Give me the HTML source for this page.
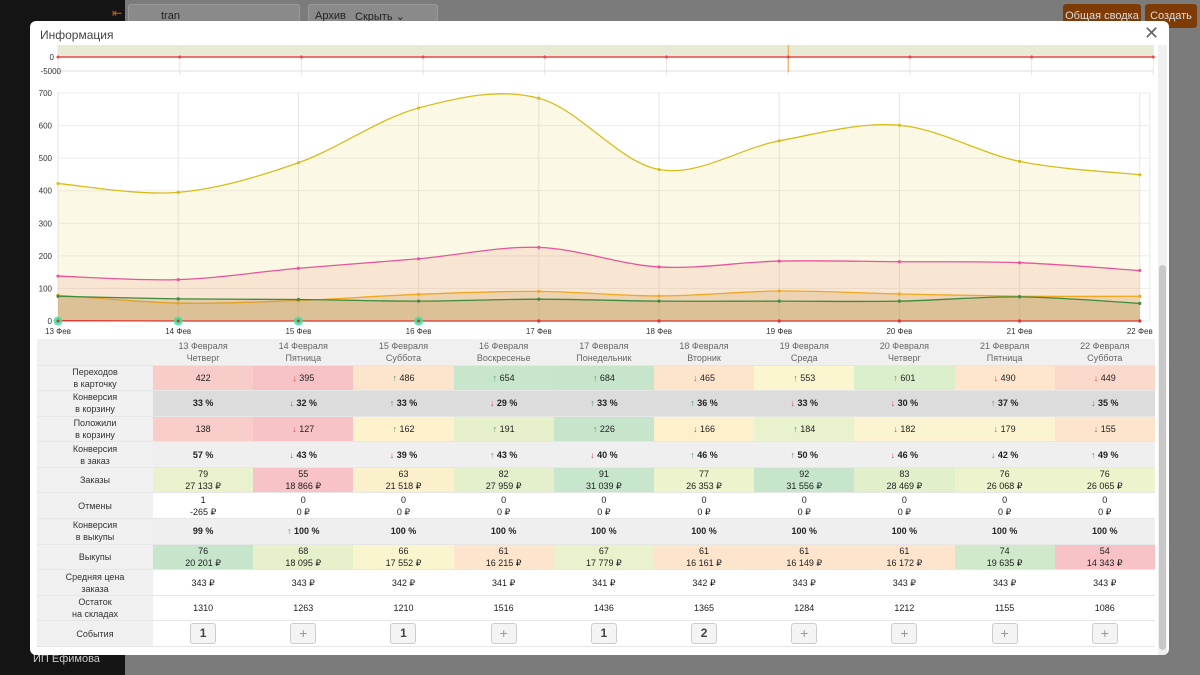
<!DOCTYPE html>
<html><head><meta charset="utf-8">
<style>
*{box-sizing:border-box;margin:0;padding:0}
body{width:1200px;height:675px;overflow:hidden;background:#7b7b7b;font-family:"Liberation Sans",sans-serif;position:relative}
.abs{position:absolute}
#sidebar{left:0;top:0;width:125px;height:675px;background:#141414}
#modal{left:30px;top:21px;width:1139px;height:634px;background:#fff;border-radius:6px;overflow:hidden}
table{position:absolute;left:7px;top:318px;border-collapse:collapse;table-layout:fixed;font-size:9px;color:#222}
td{height:25.6px;text-align:center;vertical-align:middle;border-bottom:1px solid #e6e6e6;line-height:12px;padding:0}
td.lab{width:116px;background:#f0f0f0;color:#333}
td.c{width:100.2px}
tr.hd td{background:#f0f0f0;color:#666;height:26px}
.u{color:#4a9a5a}.d{color:#e0464b}
tr.b td.c{font-weight:bold}
.btn{display:inline-block;width:26px;height:21px;border:1px solid #ccc;border-radius:3px;background:#f4f4f4;line-height:19px;font-size:12px;font-weight:bold;color:#444}
.btn.p{font-weight:normal;color:#999;font-size:14px}
</style></head><body>
<div id="sidebar" class="abs">
<div class="abs" style="left:33px;top:653px;color:#ccc;font-size:11px">ИП Ефимова</div>
<div class="abs" style="left:112px;top:6px;color:#c8601a;font-size:12px">⇤</div>
</div>
<div class="abs" style="left:128px;top:4px;width:172px;height:24px;background:#8a8a8a;border:1px solid #999;border-radius:3px"><span class="abs" style="left:32px;top:5px;font-size:11px;color:#222">tran</span></div>
<div class="abs" style="left:308px;top:4px;width:130px;height:24px;background:#8a8a8a;border:1px solid #999;border-radius:3px;font-size:11px;color:#222"><span class="abs" style="left:6px;top:5px">Архив</span><span class="abs" style="left:46px;top:5px">Скрыть ⌄</span></div>
<div class="abs" style="left:1063px;top:4px;width:78px;height:24px;background:#7f3b05;border-radius:3px;color:#ddd;font-size:11px;line-height:24px;text-align:center">Общая сводка</div>
<div class="abs" style="left:1145px;top:4px;width:52px;height:24px;background:#7f3b05;border-radius:3px;color:#ddd;font-size:11px;line-height:24px;text-align:center">Создать</div>
<div id="modal" class="abs">
<div class="abs" style="left:10px;top:7px;font-size:12px;color:#444">Информация</div>
<div class="abs" style="left:1114px;top:2px;font-size:18px;color:#666">✕</div>
<div class="abs" style="left:1128px;top:24px;width:9px;height:610px;background:#f0f0f0"><div class="abs" style="left:1px;top:220px;width:7px;height:385px;background:#c8c8c8;border-radius:4px"></div></div>
<svg id="chart" class="abs" style="left:0;top:0" width="1130" height="318"></svg>
<table id="tbl"></table>
</div>
<script>
const categories=["13 Фев","14 Фев","15 Фев","16 Фев","17 Фев","18 Фев","19 Фев","20 Фев","21 Фев","22 Фев"];
const transitions=[422,395,486,654,684,465,553,601,490,449];
const cart=[138,127,162,191,226,166,184,182,179,155];
const orders=[79,55,63,82,91,77,92,83,76,76];
const buyouts=[76,68,66,61,67,61,61,61,74,54];
const cancels=[1,0,0,0,0,0,0,0,0,0];
const yTicks=[0,100,200,300,400,500,600,700];
const eventDays=[0,1,2,3];
const NS="http://www.w3.org/2000/svg";
const svg=document.getElementById('chart');
const ox=30,oy=21;
const x=i=>58-ox+i*120.2;
const y=v=>321-oy-v*(228/700);
const x2=i=>58-ox+i*121.7;
function el(t,a,p){const e=document.createElementNS(NS,t);for(const k in a)e.setAttribute(k,a[k]);(p||svg).appendChild(e);return e;}
// mini chart
let r=el('rect',{x:x2(0),y:24,width:x2(9)-x2(0),height:12,fill:'#e7ebd4'});

categories.forEach((c,i)=>{el('line',{x1:x2(i),x2:x2(i),y1:24,y2:54,stroke:'#e6e6e6'});});
el('line',{x1:x2(0),x2:x2(9),y1:50,y2:50,stroke:'#ddd'});
let t=el('text',{x:24,y:39,'font-size':8,fill:'#333','text-anchor':'end'});t.textContent='0';
t=el('text',{x:31,y:53,'font-size':8,fill:'#333','text-anchor':'end'});t.textContent='-5000';
let ml=el('line',{x1:x2(0),x2:x2(9),y1:36,y2:36,stroke:'#e8474c','stroke-width':1.5});

el('line',{x1:x2(6),x2:x2(6),y1:24,y2:51,stroke:'#f0a030','stroke-width':1});
categories.forEach((c,i)=>{el('circle',{cx:x2(i),cy:36,r:1.5,fill:'#e8474c'});});
// main grid
el('rect',{x:x(0),y:y(700),width:x(9)+10-x(0),height:y(0)-y(700),fill:'none',stroke:'#e6e6e6'});
yTicks.forEach(v=>{el('line',{x1:x(0),x2:x(9)+10,y1:y(v),y2:y(v),stroke:'#ececec'});
 const tt=el('text',{x:x(0)-6,y:y(v)+3,'font-size':8,fill:'#333','text-anchor':'end'});tt.textContent=v;
 });
categories.forEach((c,i)=>{el('line',{x1:x(i),x2:x(i),y1:y(700),y2:y(0),stroke:'#e6e6e6'});
 const tt=el('text',{x:x(i),y:y(0)+13,'font-size':8,fill:'#333','text-anchor':'middle'});tt.textContent=c;
 });
function path(vals){let d=`M${x(0)},${y(vals[0])}`;for(let i=0;i<vals.length-1;i++){const p0=vals[Math.max(0,i-1)],p1=vals[i],p2=vals[i+1],p3=vals[Math.min(vals.length-1,i+2)];
 const x0=x(Math.max(0,i-1)),x1=x(i),xx2=x(i+1),x3=x(Math.min(vals.length-1,i+2));
 const c1x=x1+(xx2-x0)/6,c1y=y(p1)+(y(p2)-y(p0))/6,c2x=xx2-(x3-x1)/6,c2y=y(p2)-(y(p3)-y(p1))/6;
 d+=` C${c1x},${c1y} ${c2x},${c2y} ${xx2},${y(p2)}`;}return d;}
function series(vals,stroke,fill,name){
 const a=el('path',{d:path(vals)+` L${x(vals.length-1)},${y(0)} L${x(0)},${y(0)} Z`,fill:fill,stroke:'none'});
 
 const l=el('path',{d:path(vals),fill:'none',stroke:stroke,'stroke-width':1.3});
 
 vals.forEach((v,i)=>{const c=el('circle',{cx:x(i),cy:y(v),r:1.6,fill:stroke});});}
series(transitions,'#d8bd1a','rgba(225,210,60,0.13)','transitions');
series(cart,'#e8559a','rgba(240,130,110,0.17)','cart');
series(orders,'#f0a820','rgba(200,150,60,0.22)','orders');
series(buyouts,'#3e8a3e','rgba(170,140,70,0.25)','buyouts');
series(cancels,'#e03030','none','cancels');
eventDays.forEach(i=>{const c=el('circle',{cx:x(i),cy:y(0),r:4.5,fill:'#3de0a0',opacity:0.85});
 el('circle',{cx:x(i),cy:y(0),r:1.5,fill:'#e03030'});});
// table
const days=[["13 Февраля","Четверг"],["14 Февраля","Пятница"],["15 Февраля","Суббота"],["16 Февраля","Воскресенье"],["17 Февраля","Понедельник"],["18 Февраля","Вторник"],["19 Февраля","Среда"],["20 Февраля","Четверг"],["21 Февраля","Пятница"],["22 Февраля","Суббота"]];
const rows=[
["Переходов<br>в карточку","",["422","d395","u486","u654","u684","d465","u553","u601","d490","d449"],["#f8cdc9","#f7c2c5","#fde4cc","#c7e6cc","#c6e5cb","#fde5cc","#faf6d0","#dcefcc","#fde6cc","#fad9cb"]],
["Конверсия<br>в корзину","b",["33 %","d32 %","u33 %","d29 %","u33 %","u36 %","d33 %","d30 %","u37 %","d35 %"],"#dcdcdc"],
["Положили<br>в корзину","",["138","d127","u162","u191","u226","d166","u184","d182","d179","d155"],["#f9cdc9","#f7c3c6","#fdf2cc","#e6f1cc","#c6e5cb","#fdf0cc","#e8f2cc","#faf5d0","#faf5d0","#fde4cc"]],
["Конверсия<br>в заказ","b",["57 %","d43 %","d39 %","u43 %","d40 %","u46 %","u50 %","d46 %","d42 %","u49 %"],"#efefef"],
["Заказы","",["79<br>27 133 ₽","55<br>18 866 ₽","63<br>21 518 ₽","82<br>27 959 ₽","91<br>31 039 ₽","77<br>26 353 ₽","92<br>31 556 ₽","83<br>28 469 ₽","76<br>26 068 ₽","76<br>26 065 ₽"],["#e9f2cd","#f7c3c6","#fbefcc","#e4f0cb","#c8e6cb","#edf3cd","#c6e5cb","#e2efcb","#edf3cd","#edf3cd"]],
["Отмены","",["1<br>-265 ₽","0<br>0 ₽","0<br>0 ₽","0<br>0 ₽","0<br>0 ₽","0<br>0 ₽","0<br>0 ₽","0<br>0 ₽","0<br>0 ₽","0<br>0 ₽"],"#fff"],
["Конверсия<br>в выкупы","b",["99 %","u100 %","100 %","100 %","100 %","100 %","100 %","100 %","100 %","100 %"],"#efefef"],
["Выкупы","",["76<br>20 201 ₽","68<br>18 095 ₽","66<br>17 552 ₽","61<br>16 215 ₽","67<br>17 779 ₽","61<br>16 161 ₽","61<br>16 149 ₽","61<br>16 172 ₽","74<br>19 635 ₽","54<br>14 343 ₽"],["#c6e5cb","#e6f1cc","#f9f6cf","#fde4cc","#e9f2cd","#fde4cc","#fde4cc","#fde4cc","#cfe9ca","#f7c3c6"]],
["Средняя цена<br>заказа","",["343 ₽","343 ₽","342 ₽","341 ₽","341 ₽","342 ₽","343 ₽","343 ₽","343 ₽","343 ₽"],"#fff"],
["Остаток<br>на складах","",["1310","1263","1210","1516","1436","1365","1284","1212","1155","1086"],"#fff"],
["События","e",["1","+","1","+","1","2","+","+","+","+"],"#fff"]];
let h='<tr class="hd"><td class="lab" style="background:#f0f0f0"></td>'+days.map(d=>`<td class="c">${d[0]}<br>${d[1]}</td>`).join('')+'</tr>';
rows.forEach(r=>{h+=`<tr class="${r[1]}"><td class="lab">${r[0]}</td>`;
 r[2].forEach((v,i)=>{const bg=Array.isArray(r[3])?r[3][i]:r[3];let s=v;
  if(r[1]==='e'){s=`<span class="btn ${v==='+'?'p':''}">${v}</span>`;}
  else if(v[0]==='u')s='<span class="u">↑</span> '+v.slice(1);else if(v[0]==='d')s='<span class="d">↓</span> '+v.slice(1);
  h+=`<td class="c" style="background:${bg}">${s}</td>`;});h+='</tr>';});
document.getElementById('tbl').innerHTML=h;
</script>
</body></html>
